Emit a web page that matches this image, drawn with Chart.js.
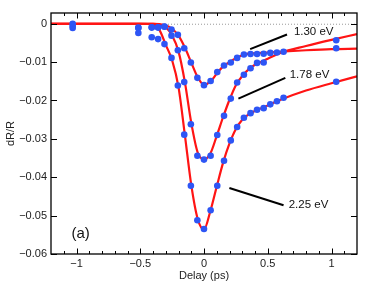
<!DOCTYPE html>
<html><head><meta charset="utf-8">
<script src="https://cdn.jsdelivr.net/npm/chart.js@4.4.0/dist/chart.umd.min.js"></script>
<style>html,body{margin:0;padding:0;background:#fff}#wrap{width:374px;height:285px}</style>
</head><body><div id="wrap"><canvas id="c" width="374" height="285"></canvas></div>
<script>
// ---- data ----
const delays = [-1.03, -0.515, -0.41, -0.36, -0.31, -0.255, -0.205, -0.155, -0.103, -0.052, 0, 0.052, 0.104, 0.157, 0.21, 0.26, 0.313, 0.365, 0.416, 0.468, 0.52, 0.572, 0.624, 1.037];
const data130 = [0, -0.0010, -0.0009, -0.0009, -0.0008, -0.0015, -0.0029, -0.0064, -0.0101, -0.0141, -0.0160, -0.0149, -0.0126, -0.0109, -0.0101, -0.0089, -0.0080, -0.0079, -0.0079, -0.0078, -0.0076, -0.0075, -0.0073, -0.0064];
const data178 = [-0.0006, -0.0011, -0.0010, -0.0010, -0.0007, -0.0031, -0.0069, -0.0152, -0.0262, -0.0344, -0.0354, -0.0344, -0.0290, -0.0240, -0.0195, -0.0153, -0.0133, -0.0116, -0.0102, -0.0101, null, null, null, -0.0043];
const data225 = [-0.0011, -0.0024, -0.0035, -0.0040, -0.0053, -0.0089, -0.0161, -0.0289, -0.0422, -0.0512, -0.0535, -0.0486, -0.0422, -0.0357, -0.0304, -0.0269, -0.0245, -0.0233, -0.0224, -0.0220, -0.0210, -0.0202, -0.0193, -0.0151];

const fitDelays = [-1.2, -1.0, -0.5, -0.4, -0.35, -0.3, -0.25, -0.2, -0.15, -0.1, -0.05, 0, 0.05, 0.1, 0.15, 0.2, 0.25, 0.3, 0.35, 0.4, 0.45, 0.5, 0.6, 0.8, 1.0, 1.2];
const fit130 = [0, 0, 0, 0, -0.0001, -0.0004, -0.0013, -0.0031, -0.0062, -0.0101, -0.0139, -0.0159, -0.0151, -0.0130, -0.0111, -0.0100, -0.0090, -0.0082, -0.0078, -0.0077, -0.0076, -0.0075, -0.0073, -0.0069, -0.0066, -0.0065];
const fit178 = [0, 0, 0, 0, -0.0002, -0.0009, -0.0031, -0.0072, -0.0152, -0.0258, -0.0335, -0.0353, -0.0338, -0.0292, -0.0243, -0.0198, -0.0160, -0.0136, -0.0119, -0.0107, -0.0099, -0.0091, -0.0076, -0.0058, -0.0042, -0.0027];
const fit225 = [0, 0, 0, -0.0002, -0.0016, -0.0055, -0.0095, -0.0165, -0.0290, -0.0420, -0.0508, -0.0536, -0.0488, -0.0424, -0.0362, -0.0312, -0.0274, -0.0250, -0.0236, -0.0227, -0.0220, -0.0213, -0.0198, -0.0174, -0.0155, -0.0137];

const seriesLabels = ['1.30 eV', '1.78 eV', '2.25 eV'];
const panelLabel = '(a)';
const yTicks = [0, -0.01, -0.02, -0.03, -0.04, -0.05, -0.06];
const xTicks = [-1, -0.5, 0, 0.5, 1];
const xMinorTicks = [-1.1, -1.0, -0.9, -0.8, -0.7, -0.6, -0.5, -0.4, -0.3, -0.2, -0.1, 0, 0.1, 0.2, 0.3, 0.4, 0.5, 0.6, 0.7, 0.8, 0.9, 1.0, 1.1];

// ---- annotation placement (data units) ----
const annoLayout = [
  {line: [[0.362, -0.0066], [0.651, -0.0028]], text: [0.705, -0.0022]},
  {line: [[0.270, -0.0195], [0.638, -0.0141]], text: [0.672, -0.0133]},
  {line: [[0.199, -0.0428], [0.624, -0.0473]], text: [0.664, -0.0471]}
];
const panelPos = [-1.04, -0.0547];

const pts = (xs, ys) => xs.map((x, i) => ({x, y: ys[i]})).filter(p => p.y !== null);
const fmt = v => { const s = String(+v.toFixed(3)); return s.replace('-', '\u2212'); };

const BLUE = '#2d55f5', RED = '#ff1414';
const FONT = '"Liberation Sans", Arial, Helvetica, sans-serif';

const framePlugin = {
  id: 'frame',
  beforeDatasetsDraw(chart) {
    const {ctx, chartArea: a, scales: {y}} = chart;
    const y0 = y.getPixelForValue(0);
    ctx.save();
    ctx.strokeStyle = '#9a9a9a'; ctx.lineWidth = 1; ctx.setLineDash([1, 2]);
    ctx.beginPath(); ctx.moveTo(a.left, y0 + 0.5); ctx.lineTo(a.right, y0 + 0.5); ctx.stroke();
    ctx.restore();
  },
  afterDatasetsDraw(chart) {
    const {ctx, chartArea: a, scales: {x, y}} = chart;
    ctx.save();
    ctx.strokeStyle = '#000'; ctx.lineWidth = 1.3;
    ctx.strokeRect(a.left, a.top, a.right - a.left, a.bottom - a.top);
    ctx.lineWidth = 1;
    ctx.beginPath();
    xMinorTicks.forEach(v => {
      const px = Math.round(x.getPixelForValue(v)) + 0.5;
      const major = xTicks.some(t => Math.abs(t - v) < 1e-9);
      const L = major ? 5.5 : 3;
      ctx.moveTo(px, a.bottom); ctx.lineTo(px, a.bottom - L);
      ctx.moveTo(px, a.top); ctx.lineTo(px, a.top + L);
    });
    yTicks.forEach(v => {
      const py = Math.round(y.getPixelForValue(v)) + 0.5;
      ctx.moveTo(a.left, py); ctx.lineTo(a.left + 6, py);
      ctx.moveTo(a.right, py); ctx.lineTo(a.right - 6, py);
    });
    ctx.stroke();
    // leader lines and labels
    ctx.lineWidth = 2; ctx.strokeStyle = '#000';
    ctx.fillStyle = '#111'; ctx.font = '11.5px ' + FONT;
    ctx.textAlign = 'left'; ctx.textBaseline = 'middle';
    annoLayout.forEach((an, i) => {
      ctx.beginPath();
      ctx.moveTo(x.getPixelForValue(an.line[0][0]), y.getPixelForValue(an.line[0][1]));
      ctx.lineTo(x.getPixelForValue(an.line[1][0]), y.getPixelForValue(an.line[1][1]));
      ctx.stroke();
      ctx.fillText(seriesLabels[i], x.getPixelForValue(an.text[0]), y.getPixelForValue(an.text[1]));
    });
    ctx.font = '15px ' + FONT;
    ctx.fillText(panelLabel, x.getPixelForValue(panelPos[0]), y.getPixelForValue(panelPos[1]));
    ctx.restore();
  }
};

const pointDs = (ys) => ({type: 'scatter', data: pts(delays, ys), showLine: false, pointRadius: 3.3, pointBackgroundColor: BLUE, pointBorderColor: BLUE, pointBorderWidth: 0, order: 0});
const fitDs = (ys) => ({type: 'line', data: pts(fitDelays, ys), borderColor: RED, borderWidth: 2.2, pointRadius: 0, fill: false, cubicInterpolationMode: 'monotone', order: 1});

new Chart(document.getElementById('c'), {
  type: 'scatter',
  data: {datasets: [pointDs(data130), pointDs(data178), pointDs(data225), fitDs(fit130), fitDs(fit178), fitDs(fit225)]},
  options: {
    responsive: false, animation: false, devicePixelRatio: 1,
    layout: {padding: {left: 0, right: 17, top: 13, bottom: 0}},
    plugins: {legend: {display: false}, tooltip: {enabled: false}},
    scales: {
      x: {
        type: 'linear', min: -1.2, max: 1.2,
        afterBuildTicks: s => { s.ticks = xTicks.map(v => ({value: v})); },
        afterFit: s => { s.height = 31; },
        grid: {display: false, drawTicks: false}, border: {display: false},
        ticks: {callback: v => fmt(v), color: '#222', font: {family: FONT, size: 11}, padding: 3, maxRotation: 0, autoSkip: false},
        title: {display: true, text: 'Delay (ps)', color: '#222', font: {family: FONT, size: 11}, padding: {top: 0, bottom: 2}}
      },
      y: {
        type: 'linear', min: -0.06, max: 0.0028,
        afterBuildTicks: s => { s.ticks = yTicks.map(v => ({value: v})); },
        afterFit: s => { s.width = 51; },
        grid: {display: false, drawTicks: false}, border: {display: false},
        ticks: {callback: v => fmt(v), color: '#222', font: {family: FONT, size: 11}, padding: 4, autoSkip: false},
        title: {display: true, text: 'dR/R', color: '#222', font: {family: FONT, size: 11}, padding: {top: 4, bottom: 0}}
      }
    }
  },
  plugins: [framePlugin]
});
</script></body></html>
